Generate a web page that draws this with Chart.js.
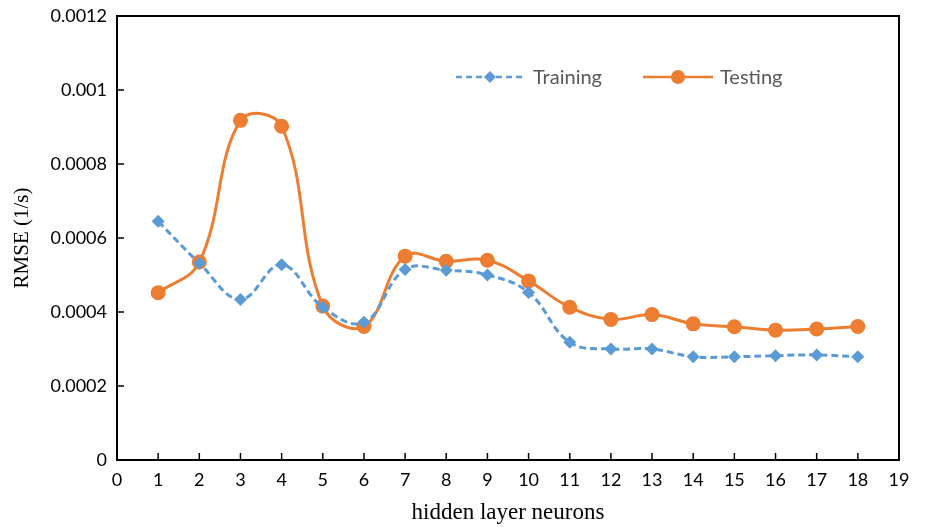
<!DOCTYPE html>
<html>
<head>
<meta charset="utf-8">
<title>RMSE vs hidden layer neurons</title>
<script src="https://cdn.jsdelivr.net/npm/chart.js@4.4.1/dist/chart.umd.min.js"></script>
<style>
  html, body { margin: 0; padding: 0; background: #fff; }
  #wrap { width: 932px; height: 527px; }
</style>
</head>
<body>
<div id="wrap"><canvas id="grafico"></canvas></div>
<script>
// datos
const neuronas = [1, 2, 3, 4, 5, 6, 7, 8, 9, 10, 11, 12, 13, 14, 15, 16, 17, 18];
const training = [0.000645, 0.000532, 0.000434, 0.000528, 0.000413, 0.000372, 0.000515, 0.000513,
                  0.0005, 0.000453, 0.000318, 0.0003, 0.0003, 0.000279, 0.000279, 0.000282, 0.000284, 0.000279];
const testing = [0.000452, 0.000535, 0.000918, 0.000902, 0.000416, 0.000361, 0.000551, 0.000537,
                 0.00054, 0.000484, 0.000413, 0.00038, 0.000393, 0.000368, 0.00036, 0.000351, 0.000354, 0.000361];
const yTicks = [0, 0.0002, 0.0004, 0.0006, 0.0008, 0.001, 0.0012];
const xTicks = [0, 1, 2, 3, 4, 5, 6, 7, 8, 9, 10, 11, 12, 13, 14, 15, 16, 17, 18, 19];

const azul = '#5B9BD5';
const naranja = '#ED7D31';

// marco, marcas hacia dentro y leyenda dentro del grafico
const marcoPlugin = {
    id: 'marco',
    afterDraw(chart) {
        const ctx = chart.ctx;
        const a = chart.chartArea;
        const sx = chart.scales.x, sy = chart.scales.y;
        ctx.save();
        ctx.strokeStyle = '#000';
        ctx.lineWidth = 2;
        ctx.strokeRect(a.left, a.top, a.right - a.left, a.bottom - a.top);
        ctx.lineWidth = 1.5;
        ctx.beginPath();
        xTicks.forEach(v => {
            const px = sx.getPixelForValue(v);
            ctx.moveTo(px, a.bottom);
            ctx.lineTo(px, a.bottom - 7);
        });
        yTicks.forEach(v => {
            const py = sy.getPixelForValue(v);
            ctx.moveTo(a.left, py);
            ctx.lineTo(a.left + 7, py);
        });
        ctx.stroke();

        // leyenda
        const ly = 77;
        ctx.font = '20px Lato, "Open Sans", sans-serif';
        ctx.textBaseline = 'middle';

        ctx.strokeStyle = azul;
        ctx.lineWidth = 2.5;
        ctx.setLineDash([6, 4]);
        ctx.beginPath();
        ctx.moveTo(456, ly);
        ctx.lineTo(525, ly);
        ctx.stroke();
        ctx.setLineDash([]);
        ctx.fillStyle = azul;
        ctx.beginPath();
        ctx.moveTo(490, ly - 6);
        ctx.lineTo(496, ly);
        ctx.lineTo(490, ly + 6);
        ctx.lineTo(484, ly);
        ctx.closePath();
        ctx.fill();
        ctx.fillStyle = '#595959';
        ctx.fillText('Training', 533, ly + 1);

        ctx.strokeStyle = naranja;
        ctx.beginPath();
        ctx.moveTo(643, ly);
        ctx.lineTo(713, ly);
        ctx.stroke();
        ctx.fillStyle = naranja;
        ctx.beginPath();
        ctx.arc(678, ly, 7, 0, Math.PI * 2);
        ctx.fill();
        ctx.fillStyle = '#595959';
        ctx.fillText('Testing', 720, ly + 1);
        ctx.restore();
    }
};

const ctx = document.getElementById('grafico').getContext('2d');
new Chart(ctx, {
    type: 'line',
    data: {
        datasets: [{
            label: 'Training',
            data: neuronas.map((n, i) => ({ x: n, y: training[i] })),
            borderColor: azul,
            backgroundColor: azul,
            borderWidth: 3,
            borderDash: [7, 4],
            pointStyle: 'rectRot',
            pointRadius: 6.5,
            pointBorderWidth: 0,
            tension: 0.4,
            cubicInterpolationMode: 'default'
        }, {
            label: 'Testing',
            data: neuronas.map((n, i) => ({ x: n, y: testing[i] })),
            borderColor: naranja,
            backgroundColor: naranja,
            borderWidth: 3,
            pointStyle: 'circle',
            pointRadius: 7.5,
            pointBorderWidth: 0,
            tension: 0.4,
            cubicInterpolationMode: 'default'
        }]
    },
    options: {
        responsive: true,
        maintainAspectRatio: false,
        animation: false,
        layout: { padding: { top: 16, right: 33, left: 0, bottom: 0 } },
        plugins: {
            legend: { display: false },
            tooltip: { enabled: false }
        },
        scales: {
            x: {
                type: 'linear',
                min: 0,
                max: 19,
                afterBuildTicks: s => { s.ticks = xTicks.map(v => ({ value: v })); },
                afterFit: s => { s.height = 67; s.paddingLeft = 0; s.paddingRight = 0; },
                grid: { display: false, drawTicks: false },
                border: { display: false },
                ticks: {
                    color: '#000',
                    padding: 9,
                    maxRotation: 0,
                    autoSkip: false,
                    font: { family: 'Lato, "Open Sans", sans-serif', size: 18 }
                },
                title: {
                    display: true,
                    text: 'hidden layer neurons',
                    color: '#000',
                    padding: { top: 2, bottom: 0 },
                    font: { family: '"Liberation Serif", "Times New Roman", serif', size: 23 }
                }
            },
            y: {
                min: 0,
                max: 0.0012,
                afterBuildTicks: s => { s.ticks = yTicks.map(v => ({ value: v })); },
                afterFit: s => { s.width = 117; s.paddingTop = 0; s.paddingBottom = 0; },
                grid: { display: false, drawTicks: false },
                border: { display: false },
                ticks: {
                    color: '#000',
                    padding: 10,
                    autoSkip: false,
                    font: { family: 'Lato, "Open Sans", sans-serif', size: 18 },
                    callback: v => String(Number(v.toFixed(4)))
                },
                title: {
                    display: true,
                    text: 'RMSE (1/s)',
                    color: '#000',
                    padding: { top: 10, bottom: 4 },
                    font: { family: '"Liberation Serif", "Times New Roman", serif', size: 21 }
                }
            }
        }
    },
    plugins: [marcoPlugin]
});
</script>
</body>
</html>
